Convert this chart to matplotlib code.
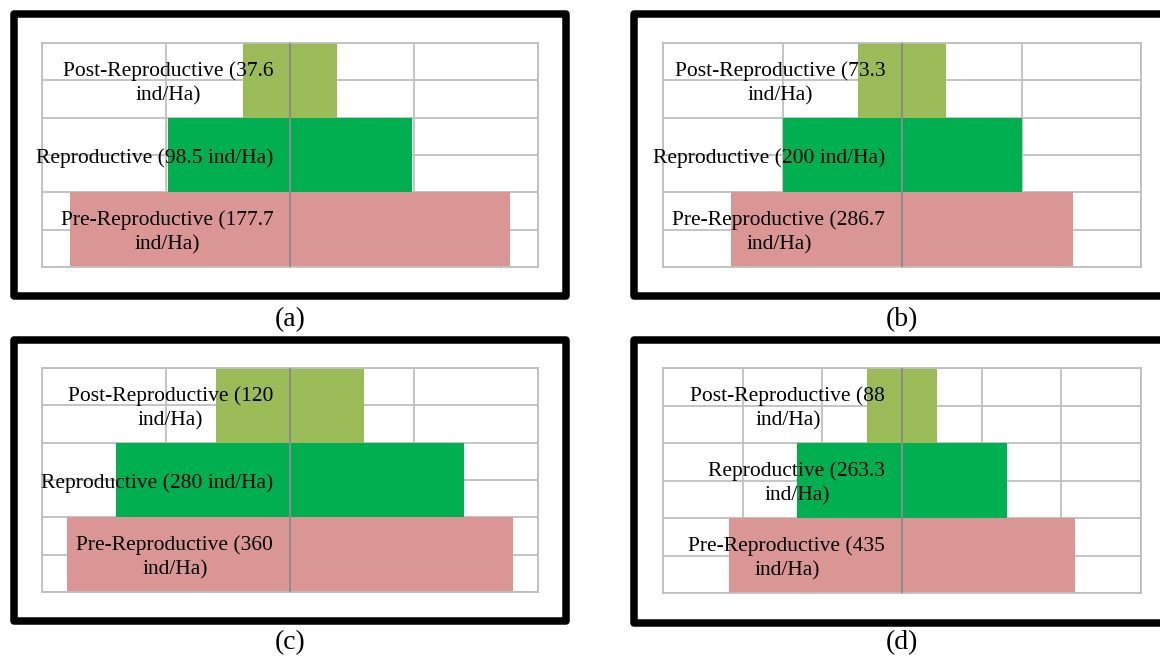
import matplotlib.pyplot as plt
from matplotlib.lines import Line2D

plt.rcParams['font.family'] = ['Liberation Serif', 'DejaVu Serif']

# population density per stage (ind/Ha), one list per panel
stages = ['Pre-Reproductive', 'Reproductive', 'Post-Reproductive']
colors = ['#D99694', '#00B050', '#9BBB59']
values_a = [177.7, 98.5, 37.6]
values_b = [286.7, 200, 73.3]
values_c = [360, 280, 120]
values_d = [435, 263.3, 88]
panel_names = ['(a)', '(b)', '(c)', '(d)']
x_limits = [200, 400, 400, 600]
x_steps = [100, 200, 200, 200]
# where the category label wraps onto a second line (same order as stages)
wraps = [[True, False, True],
         [True, False, True],
         [True, False, True],
         [True, True, True]]

W, H = 1160, 659
fig = plt.figure(figsize=(11.6, 6.59), dpi=100)


def fx(px):
    return px / W


def fy(py):
    return 1 - py / H


# axes boxes in pixels: left, top, right, bottom
boxes = [(42, 43, 538, 267), (663, 43, 1141, 267),
         (42, 368, 538, 592), (663, 368, 1141, 593)]
# black frames in pixels (line centres); right-hand ones run off the page
frames = [(13.5, 14, 566, 295.5), (633.5, 14, 1175, 296),
          (13.5, 339.5, 566, 620.5), (633.5, 339.5, 1175, 623)]
caption_pos = [(290, 320), (902, 320), (290, 643), (902, 643)]

all_values = [values_a, values_b, values_c, values_d]

for i in range(4):
    l, t, r, b = boxes[i]
    ax = fig.add_axes([fx(l), fy(b), fx(r - l), (b - t) / H])
    vals = all_values[i]
    lim = x_limits[i]
    ypos = range(len(stages))

    ax.barh(ypos, [2 * v for v in vals], left=[-v for v in vals],
            height=1.0, color=colors, zorder=2)

    ax.set_xlim(-lim, lim)
    ax.set_ylim(-0.5, 2.5)
    for gx in range(-lim, lim + 1, x_steps[i]):
        ax.axvline(gx, color='#BFBFBF', lw=1.3, zorder=1)
    for gy in [-0.5, 0, 0.5, 1, 1.5, 2, 2.5]:
        ax.axhline(gy, color='#BFBFBF', lw=1.3, zorder=1)
    ax.axvline(0, color='#8C8C8C', lw=1.4, zorder=3)

    for s in ax.spines.values():
        s.set_color('#BFBFBF')
        s.set_linewidth(1.3)
    ax.set_xticks([])
    ax.set_yticks([])

    for k in ypos:
        v = vals[k]
        sep = '\n' if wraps[i][k] else ' '
        label = '%s (%g%sind/Ha)' % (stages[k], v, sep)
        ax.annotate(label, xy=(0, k), xytext=(-12, -2),
                    textcoords='offset points', ha='right', va='center',
                    multialignment='center', fontsize=15.5, zorder=4,
                    linespacing=1.4)

    fl, ft, fr, fb = frames[i]
    if fr < W:
        # start mid-way along the top so every corner gets a proper join
        mid = (fl + fr) / 2
        xs = [mid, fl, fl, fr, fr, mid]
        ys = [ft, ft, fb, fb, ft, ft]
    else:
        xs = [fr, fl, fl, fr]
        ys = [ft, ft, fb, fb]
    fig.add_artist(Line2D([fx(x) for x in xs], [fy(y) for y in ys],
                          transform=fig.transFigure, color='black', lw=5.4,
                          solid_joinstyle='round', solid_capstyle='butt'))

    cx, cy = caption_pos[i]
    fig.text(fx(cx), fy(cy), panel_names[i], ha='center', va='center',
             fontsize=20)

fig.savefig('out.png', dpi=100)
